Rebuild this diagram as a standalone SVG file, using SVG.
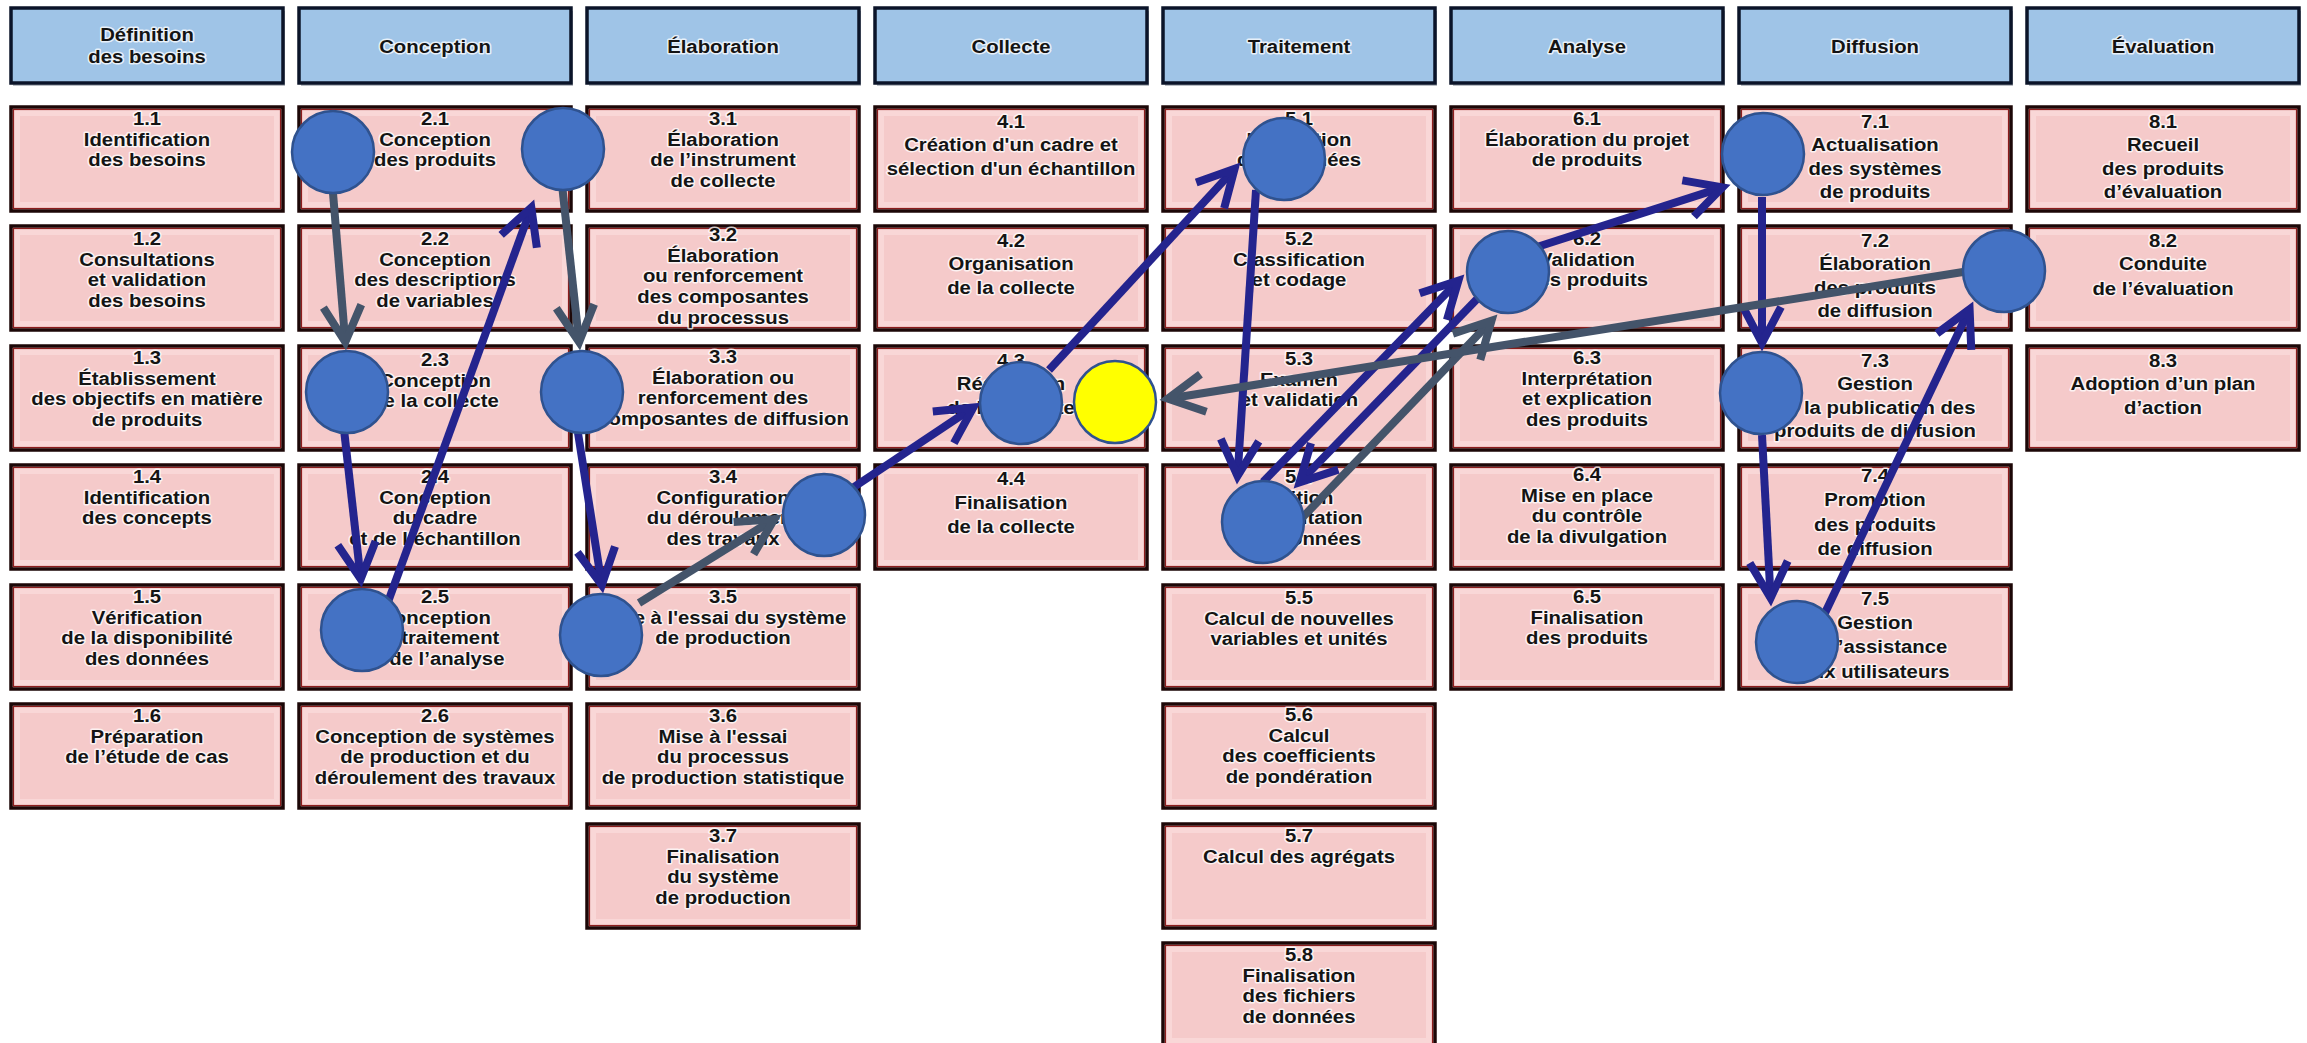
<svg xmlns="http://www.w3.org/2000/svg" width="2307" height="1043" viewBox="0 0 2307 1043">
  <style>
    .hdr { fill: #9fc4e7; stroke: #0b1429; stroke-width: 3.5; }
    .hsh { fill: #7f8794; opacity: 0.55; }
    .box { fill: #f5caca; stroke: #1c0707; stroke-width: 3.5; }
    .glow { fill: none; stroke: #fbe0e0; stroke-width: 6; opacity: 0.6; }
    .edge { fill: none; stroke: #8c1d1d; stroke-width: 1.2; }
    .t { font-family: "Liberation Sans", Arial, sans-serif; font-weight: 700; font-size: 19px; fill: #141414; text-anchor: middle; stroke: #ffffff; stroke-width: 3; stroke-opacity: 0.75; stroke-linejoin: round; paint-order: stroke; }
    .c { fill: #4472c4; stroke: #2f528f; stroke-width: 2.5; }
    .cy { fill: #ffff00; stroke: #2f528f; stroke-width: 2.5; }
    .gray { stroke: #44546a; stroke-width: 8; fill: none; marker-end: url(#ah-gray); }
    .navy { stroke: #24248e; stroke-width: 8; fill: none; marker-end: url(#ah-navy); }
  </style>
  <defs>
    <marker id="ah-gray" markerUnits="userSpaceOnUse" viewBox="-50 -30 70 60" markerWidth="70" markerHeight="60" refX="0" refY="0" orient="auto">
      <path d="M-36,-19 L0,0 L-36,19" fill="none" stroke="#44546a" stroke-width="8" stroke-linejoin="miter" stroke-miterlimit="4"/>
    </marker>
    <marker id="ah-navy" markerUnits="userSpaceOnUse" viewBox="-50 -30 70 60" markerWidth="70" markerHeight="60" refX="0" refY="0" orient="auto">
      <path d="M-36,-19 L0,0 L-36,19" fill="none" stroke="#24248e" stroke-width="8" stroke-linejoin="miter" stroke-miterlimit="4"/>
    </marker>
  </defs>
  <rect width="2307" height="1043" fill="#ffffff"/>

  <!-- phase headers -->
  <g id="h1"><rect class="hsh" x="13" y="11" width="272" height="75"/><rect class="hdr" x="11" y="8" width="272" height="75"/><text class="t" transform="translate(147,0) scale(1.07,1)"><tspan x="0" y="41">Définition</tspan><tspan x="0" y="63">des besoins</tspan></text></g>
  <g id="h2"><rect class="hsh" x="301" y="11" width="272" height="75"/><rect class="hdr" x="299" y="8" width="272" height="75"/><text class="t" transform="translate(435,0) scale(1.07,1)" x="0" y="53">Conception</text></g>
  <g id="h3"><rect class="hsh" x="589" y="11" width="272" height="75"/><rect class="hdr" x="587" y="8" width="272" height="75"/><text class="t" transform="translate(723,0) scale(1.07,1)" x="0" y="53">Élaboration</text></g>
  <g id="h4"><rect class="hsh" x="877" y="11" width="272" height="75"/><rect class="hdr" x="875" y="8" width="272" height="75"/><text class="t" transform="translate(1011,0) scale(1.07,1)" x="0" y="53">Collecte</text></g>
  <g id="h5"><rect class="hsh" x="1165" y="11" width="272" height="75"/><rect class="hdr" x="1163" y="8" width="272" height="75"/><text class="t" transform="translate(1299,0) scale(1.07,1)" x="0" y="53">Traitement</text></g>
  <g id="h6"><rect class="hsh" x="1453" y="11" width="272" height="75"/><rect class="hdr" x="1451" y="8" width="272" height="75"/><text class="t" transform="translate(1587,0) scale(1.07,1)" x="0" y="53">Analyse</text></g>
  <g id="h7"><rect class="hsh" x="1741" y="11" width="272" height="75"/><rect class="hdr" x="1739" y="8" width="272" height="75"/><text class="t" transform="translate(1875,0) scale(1.07,1)" x="0" y="53">Diffusion</text></g>
  <g id="h8"><rect class="hsh" x="2029" y="11" width="272" height="75"/><rect class="hdr" x="2027" y="8" width="272" height="75"/><text class="t" transform="translate(2163,0) scale(1.07,1)" x="0" y="53">Évaluation</text></g>

  <!-- sub-process boxes: column 1 -->
  <g id="s1-1"><rect class="box" x="11" y="107" width="272" height="104"/><rect class="glow" x="17" y="113" width="260" height="92"/><rect class="edge" x="13.5" y="109.5" width="267" height="99"/><text class="t" transform="translate(147,107) scale(1.07,1)"><tspan x="0" y="18">1.1</tspan><tspan x="0" dy="20.7">Identification</tspan><tspan x="0" dy="20.7">des besoins</tspan></text></g>
  <g id="s1-2"><rect class="box" x="11" y="226" width="272" height="104"/><rect class="glow" x="17" y="232" width="260" height="92"/><rect class="edge" x="13.5" y="228.5" width="267" height="99"/><text class="t" transform="translate(147,226) scale(1.07,1)"><tspan x="0" y="19">1.2</tspan><tspan x="0" dy="20.7">Consultations</tspan><tspan x="0" dy="20.7">et validation</tspan><tspan x="0" dy="20.7">des besoins</tspan></text></g>
  <g id="s1-3"><rect class="box" x="11" y="346" width="272" height="104"/><rect class="glow" x="17" y="352" width="260" height="92"/><rect class="edge" x="13.5" y="348.5" width="267" height="99"/><text class="t" transform="translate(147,346) scale(1.07,1)"><tspan x="0" y="18">1.3</tspan><tspan x="0" dy="20.7">Établissement</tspan><tspan x="0" dy="20.7">des objectifs en matière</tspan><tspan x="0" dy="20.7">de produits</tspan></text></g>
  <g id="s1-4"><rect class="box" x="11" y="465" width="272" height="104"/><rect class="glow" x="17" y="471" width="260" height="92"/><rect class="edge" x="13.5" y="467.5" width="267" height="99"/><text class="t" transform="translate(147,465) scale(1.07,1)"><tspan x="0" y="18">1.4</tspan><tspan x="0" dy="20.7">Identification</tspan><tspan x="0" dy="20.7">des concepts</tspan></text></g>
  <g id="s1-5"><rect class="box" x="11" y="585" width="272" height="104"/><rect class="glow" x="17" y="591" width="260" height="92"/><rect class="edge" x="13.5" y="587.5" width="267" height="99"/><text class="t" transform="translate(147,585) scale(1.07,1)"><tspan x="0" y="18">1.5</tspan><tspan x="0" dy="20.7">Vérification</tspan><tspan x="0" dy="20.7">de la disponibilité</tspan><tspan x="0" dy="20.7">des données</tspan></text></g>
  <g id="s1-6"><rect class="box" x="11" y="704" width="272" height="104"/><rect class="glow" x="17" y="710" width="260" height="92"/><rect class="edge" x="13.5" y="706.5" width="267" height="99"/><text class="t" transform="translate(147,704) scale(1.07,1)"><tspan x="0" y="18">1.6</tspan><tspan x="0" dy="20.7">Préparation</tspan><tspan x="0" dy="20.7">de l’étude de cas</tspan></text></g>

  <!-- column 2 -->
  <g id="s2-1"><rect class="box" x="299" y="107" width="272" height="104"/><rect class="glow" x="305" y="113" width="260" height="92"/><rect class="edge" x="301.5" y="109.5" width="267" height="99"/><text class="t" transform="translate(435,107) scale(1.07,1)"><tspan x="0" y="18">2.1</tspan><tspan x="0" dy="20.7">Conception</tspan><tspan x="0" dy="20.7">des produits</tspan></text></g>
  <g id="s2-2"><rect class="box" x="299" y="226" width="272" height="104"/><rect class="glow" x="305" y="232" width="260" height="92"/><rect class="edge" x="301.5" y="228.5" width="267" height="99"/><text class="t" transform="translate(435,226) scale(1.07,1)"><tspan x="0" y="19">2.2</tspan><tspan x="0" dy="20.7">Conception</tspan><tspan x="0" dy="20.7">des descriptions</tspan><tspan x="0" dy="20.7">de variables</tspan></text></g>
  <g id="s2-3"><rect class="box" x="299" y="346" width="272" height="104"/><rect class="glow" x="305" y="352" width="260" height="92"/><rect class="edge" x="301.5" y="348.5" width="267" height="99"/><text class="t" transform="translate(435,346) scale(1.07,1)"><tspan x="0" y="20">2.3</tspan><tspan x="0" dy="20.7">Conception</tspan><tspan x="0" dy="20.7">de la collecte</tspan></text></g>
  <g id="s2-4"><rect class="box" x="299" y="465" width="272" height="104"/><rect class="glow" x="305" y="471" width="260" height="92"/><rect class="edge" x="301.5" y="467.5" width="267" height="99"/><text class="t" transform="translate(435,465) scale(1.07,1)"><tspan x="0" y="18">2.4</tspan><tspan x="0" dy="20.7">Conception</tspan><tspan x="0" dy="20.7">du cadre</tspan><tspan x="0" dy="20.7">et de l’échantillon</tspan></text></g>
  <g id="s2-5"><rect class="box" x="299" y="585" width="272" height="104"/><rect class="glow" x="305" y="591" width="260" height="92"/><rect class="edge" x="301.5" y="587.5" width="267" height="99"/><text class="t" transform="translate(435,585) scale(1.07,1)"><tspan x="0" y="18">2.5</tspan><tspan x="0" dy="20.7">Conception</tspan><tspan x="0" dy="20.7">du traitement</tspan><tspan x="0" dy="20.7">et de l’analyse</tspan></text></g>
  <g id="s2-6"><rect class="box" x="299" y="704" width="272" height="104"/><rect class="glow" x="305" y="710" width="260" height="92"/><rect class="edge" x="301.5" y="706.5" width="267" height="99"/><text class="t" transform="translate(435,704) scale(1.07,1)"><tspan x="0" y="18">2.6</tspan><tspan x="0" dy="20.7">Conception de systèmes</tspan><tspan x="0" dy="20.7">de production et du</tspan><tspan x="0" dy="20.7">déroulement des travaux</tspan></text></g>

  <!-- column 3 -->
  <g id="s3-1"><rect class="box" x="587" y="107" width="272" height="104"/><rect class="glow" x="593" y="113" width="260" height="92"/><rect class="edge" x="589.5" y="109.5" width="267" height="99"/><text class="t" transform="translate(723,107) scale(1.07,1)"><tspan x="0" y="18">3.1</tspan><tspan x="0" dy="20.7">Élaboration</tspan><tspan x="0" dy="20.7">de l’instrument</tspan><tspan x="0" dy="20.7">de collecte</tspan></text></g>
  <g id="s3-2"><rect class="box" x="587" y="226" width="272" height="104"/><rect class="glow" x="593" y="232" width="260" height="92"/><rect class="edge" x="589.5" y="228.5" width="267" height="99"/><text class="t" transform="translate(723,226) scale(1.07,1)"><tspan x="0" y="15">3.2</tspan><tspan x="0" dy="20.7">Élaboration</tspan><tspan x="0" dy="20.7">ou renforcement</tspan><tspan x="0" dy="20.7">des composantes</tspan><tspan x="0" dy="20.7">du processus</tspan></text></g>
  <g id="s3-3"><rect class="box" x="587" y="346" width="272" height="104"/><rect class="glow" x="593" y="352" width="260" height="92"/><rect class="edge" x="589.5" y="348.5" width="267" height="99"/><text class="t" transform="translate(723,346) scale(1.07,1)"><tspan x="0" y="17">3.3</tspan><tspan x="0" dy="20.7">Élaboration ou</tspan><tspan x="0" dy="20.7">renforcement des</tspan><tspan x="0" dy="20.7">composantes de diffusion</tspan></text></g>
  <g id="s3-4"><rect class="box" x="587" y="465" width="272" height="104"/><rect class="glow" x="593" y="471" width="260" height="92"/><rect class="edge" x="589.5" y="467.5" width="267" height="99"/><text class="t" transform="translate(723,465) scale(1.07,1)"><tspan x="0" y="18">3.4</tspan><tspan x="0" dy="20.7">Configuration</tspan><tspan x="0" dy="20.7">du déroulement</tspan><tspan x="0" dy="20.7">des travaux</tspan></text></g>
  <g id="s3-5"><rect class="box" x="587" y="585" width="272" height="104"/><rect class="glow" x="593" y="591" width="260" height="92"/><rect class="edge" x="589.5" y="587.5" width="267" height="99"/><text class="t" transform="translate(723,585) scale(1.07,1)"><tspan x="0" y="18">3.5</tspan><tspan x="0" dy="20.7">Mise à l'essai du système</tspan><tspan x="0" dy="20.7">de production</tspan></text></g>
  <g id="s3-6"><rect class="box" x="587" y="704" width="272" height="104"/><rect class="glow" x="593" y="710" width="260" height="92"/><rect class="edge" x="589.5" y="706.5" width="267" height="99"/><text class="t" transform="translate(723,704) scale(1.07,1)"><tspan x="0" y="18">3.6</tspan><tspan x="0" dy="20.7">Mise à l'essai</tspan><tspan x="0" dy="20.7">du processus</tspan><tspan x="0" dy="20.7">de production statistique</tspan></text></g>
  <g id="s3-7"><rect class="box" x="587" y="824" width="272" height="104"/><rect class="glow" x="593" y="830" width="260" height="92"/><rect class="edge" x="589.5" y="826.5" width="267" height="99"/><text class="t" transform="translate(723,824) scale(1.07,1)"><tspan x="0" y="18">3.7</tspan><tspan x="0" dy="20.7">Finalisation</tspan><tspan x="0" dy="20.7">du système</tspan><tspan x="0" dy="20.7">de production</tspan></text></g>

  <!-- column 4 -->
  <g id="s4-1"><rect class="box" x="875" y="107" width="272" height="104"/><rect class="glow" x="881" y="113" width="260" height="92"/><rect class="edge" x="877.5" y="109.5" width="267" height="99"/><text class="t" transform="translate(1011,107) scale(1.07,1)"><tspan x="0" y="21">4.1</tspan><tspan x="0" dy="23.5">Création d'un cadre et</tspan><tspan x="0" dy="23.5">sélection d'un échantillon</tspan></text></g>
  <g id="s4-2"><rect class="box" x="875" y="226" width="272" height="104"/><rect class="glow" x="881" y="232" width="260" height="92"/><rect class="edge" x="877.5" y="228.5" width="267" height="99"/><text class="t" transform="translate(1011,226) scale(1.07,1)"><tspan x="0" y="21">4.2</tspan><tspan x="0" dy="23.5">Organisation</tspan><tspan x="0" dy="23.5">de la collecte</tspan></text></g>
  <g id="s4-3"><rect class="box" x="875" y="346" width="272" height="104"/><rect class="glow" x="881" y="352" width="260" height="92"/><rect class="edge" x="877.5" y="348.5" width="267" height="99"/><text class="t" transform="translate(1011,346) scale(1.07,1)"><tspan x="0" y="21">4.3</tspan><tspan x="0" dy="23.5">Réalisation</tspan><tspan x="0" dy="23.5">de la collecte</tspan></text></g>
  <g id="s4-4"><rect class="box" x="875" y="465" width="272" height="104"/><rect class="glow" x="881" y="471" width="260" height="92"/><rect class="edge" x="877.5" y="467.5" width="267" height="99"/><text class="t" transform="translate(1011,465) scale(1.07,1)"><tspan x="0" y="20">4.4</tspan><tspan x="0" dy="24.5">Finalisation</tspan><tspan x="0" dy="23.5">de la collecte</tspan></text></g>

  <!-- column 5 -->
  <g id="s5-1"><rect class="box" x="1163" y="107" width="272" height="104"/><rect class="glow" x="1169" y="113" width="260" height="92"/><rect class="edge" x="1165.5" y="109.5" width="267" height="99"/><text class="t" transform="translate(1299,107) scale(1.07,1)"><tspan x="0" y="18">5.1</tspan><tspan x="0" dy="20.7">Intégration</tspan><tspan x="0" dy="20.7">des données</tspan></text></g>
  <g id="s5-2"><rect class="box" x="1163" y="226" width="272" height="104"/><rect class="glow" x="1169" y="232" width="260" height="92"/><rect class="edge" x="1165.5" y="228.5" width="267" height="99"/><text class="t" transform="translate(1299,226) scale(1.07,1)"><tspan x="0" y="19">5.2</tspan><tspan x="0" dy="20.7">Classification</tspan><tspan x="0" dy="20.7">et codage</tspan></text></g>
  <g id="s5-3"><rect class="box" x="1163" y="346" width="272" height="104"/><rect class="glow" x="1169" y="352" width="260" height="92"/><rect class="edge" x="1165.5" y="348.5" width="267" height="99"/><text class="t" transform="translate(1299,346) scale(1.07,1)"><tspan x="0" y="19">5.3</tspan><tspan x="0" dy="20.7">Examen</tspan><tspan x="0" dy="20.7">et validation</tspan></text></g>
  <g id="s5-4"><rect class="box" x="1163" y="465" width="272" height="104"/><rect class="glow" x="1169" y="471" width="260" height="92"/><rect class="edge" x="1165.5" y="467.5" width="267" height="99"/><text class="t" transform="translate(1299,465) scale(1.07,1)"><tspan x="0" y="18">5.4</tspan><tspan x="0" dy="20.7">Édition</tspan><tspan x="0" dy="20.7">et imputation</tspan><tspan x="0" dy="20.7">des données</tspan></text></g>
  <g id="s5-5"><rect class="box" x="1163" y="585" width="272" height="104"/><rect class="glow" x="1169" y="591" width="260" height="92"/><rect class="edge" x="1165.5" y="587.5" width="267" height="99"/><text class="t" transform="translate(1299,585) scale(1.07,1)"><tspan x="0" y="19">5.5</tspan><tspan x="0" dy="20.7">Calcul de nouvelles</tspan><tspan x="0" dy="20.7">variables et unités</tspan></text></g>
  <g id="s5-6"><rect class="box" x="1163" y="704" width="272" height="104"/><rect class="glow" x="1169" y="710" width="260" height="92"/><rect class="edge" x="1165.5" y="706.5" width="267" height="99"/><text class="t" transform="translate(1299,704) scale(1.07,1)"><tspan x="0" y="17">5.6</tspan><tspan x="0" dy="20.7">Calcul</tspan><tspan x="0" dy="20.7">des coefficients</tspan><tspan x="0" dy="20.7">de pondération</tspan></text></g>
  <g id="s5-7"><rect class="box" x="1163" y="824" width="272" height="104"/><rect class="glow" x="1169" y="830" width="260" height="92"/><rect class="edge" x="1165.5" y="826.5" width="267" height="99"/><text class="t" transform="translate(1299,824) scale(1.07,1)"><tspan x="0" y="18">5.7</tspan><tspan x="0" dy="20.7">Calcul des agrégats</tspan></text></g>
  <g id="s5-8"><rect class="box" x="1163" y="943" width="272" height="104"/><rect class="glow" x="1169" y="949" width="260" height="92"/><rect class="edge" x="1165.5" y="945.5" width="267" height="99"/><text class="t" transform="translate(1299,943) scale(1.07,1)"><tspan x="0" y="18">5.8</tspan><tspan x="0" dy="20.7">Finalisation</tspan><tspan x="0" dy="20.7">des fichiers</tspan><tspan x="0" dy="20.7">de données</tspan></text></g>

  <!-- column 6 -->
  <g id="s6-1"><rect class="box" x="1451" y="107" width="272" height="104"/><rect class="glow" x="1457" y="113" width="260" height="92"/><rect class="edge" x="1453.5" y="109.5" width="267" height="99"/><text class="t" transform="translate(1587,107) scale(1.07,1)"><tspan x="0" y="18">6.1</tspan><tspan x="0" dy="20.7">Élaboration du projet</tspan><tspan x="0" dy="20.7">de produits</tspan></text></g>
  <g id="s6-2"><rect class="box" x="1451" y="226" width="272" height="104"/><rect class="glow" x="1457" y="232" width="260" height="92"/><rect class="edge" x="1453.5" y="228.5" width="267" height="99"/><text class="t" transform="translate(1587,226) scale(1.07,1)"><tspan x="0" y="19">6.2</tspan><tspan x="0" dy="20.7">Validation</tspan><tspan x="0" dy="20.7">des produits</tspan></text></g>
  <g id="s6-3"><rect class="box" x="1451" y="346" width="272" height="104"/><rect class="glow" x="1457" y="352" width="260" height="92"/><rect class="edge" x="1453.5" y="348.5" width="267" height="99"/><text class="t" transform="translate(1587,346) scale(1.07,1)"><tspan x="0" y="18">6.3</tspan><tspan x="0" dy="20.7">Interprétation</tspan><tspan x="0" dy="20.7">et explication</tspan><tspan x="0" dy="20.7">des produits</tspan></text></g>
  <g id="s6-4"><rect class="box" x="1451" y="465" width="272" height="104"/><rect class="glow" x="1457" y="471" width="260" height="92"/><rect class="edge" x="1453.5" y="467.5" width="267" height="99"/><text class="t" transform="translate(1587,465) scale(1.07,1)"><tspan x="0" y="16">6.4</tspan><tspan x="0" dy="20.7">Mise en place</tspan><tspan x="0" dy="20.7">du contrôle</tspan><tspan x="0" dy="20.7">de la divulgation</tspan></text></g>
  <g id="s6-5"><rect class="box" x="1451" y="585" width="272" height="104"/><rect class="glow" x="1457" y="591" width="260" height="92"/><rect class="edge" x="1453.5" y="587.5" width="267" height="99"/><text class="t" transform="translate(1587,585) scale(1.07,1)"><tspan x="0" y="18">6.5</tspan><tspan x="0" dy="20.7">Finalisation</tspan><tspan x="0" dy="20.7">des produits</tspan></text></g>

  <!-- column 7 -->
  <g id="s7-1"><rect class="box" x="1739" y="107" width="272" height="104"/><rect class="glow" x="1745" y="113" width="260" height="92"/><rect class="edge" x="1741.5" y="109.5" width="267" height="99"/><text class="t" transform="translate(1875,107) scale(1.07,1)"><tspan x="0" y="21">7.1</tspan><tspan x="0" dy="23.5">Actualisation</tspan><tspan x="0" dy="23.5">des systèmes</tspan><tspan x="0" dy="23.5">de produits</tspan></text></g>
  <g id="s7-2"><rect class="box" x="1739" y="226" width="272" height="104"/><rect class="glow" x="1745" y="232" width="260" height="92"/><rect class="edge" x="1741.5" y="228.5" width="267" height="99"/><text class="t" transform="translate(1875,226) scale(1.07,1)"><tspan x="0" y="21">7.2</tspan><tspan x="0" dy="23.5">Élaboration</tspan><tspan x="0" dy="23.5">des produits</tspan><tspan x="0" dy="23.5">de diffusion</tspan></text></g>
  <g id="s7-3"><rect class="box" x="1739" y="346" width="272" height="104"/><rect class="glow" x="1745" y="352" width="260" height="92"/><rect class="edge" x="1741.5" y="348.5" width="267" height="99"/><text class="t" transform="translate(1875,346) scale(1.07,1)"><tspan x="0" y="21">7.3</tspan><tspan x="0" dy="23.5">Gestion</tspan><tspan x="0" dy="23.5">de la publication des</tspan><tspan x="0" dy="23.5">produits de diffusion</tspan></text></g>
  <g id="s7-4"><rect class="box" x="1739" y="465" width="272" height="104"/><rect class="glow" x="1745" y="471" width="260" height="92"/><rect class="edge" x="1741.5" y="467.5" width="267" height="99"/><text class="t" transform="translate(1875,465) scale(1.07,1)"><tspan x="0" y="17">7.4</tspan><tspan x="0" dy="24.5">Promotion</tspan><tspan x="0" dy="24.5">des produits</tspan><tspan x="0" dy="24">de diffusion</tspan></text></g>
  <g id="s7-5"><rect class="box" x="1739" y="585" width="272" height="104"/><rect class="glow" x="1745" y="591" width="260" height="92"/><rect class="edge" x="1741.5" y="587.5" width="267" height="99"/><text class="t" transform="translate(1875,585) scale(1.07,1)"><tspan x="0" y="20">7.5</tspan><tspan x="0" dy="24.5">Gestion</tspan><tspan x="0" dy="24">de l’assistance</tspan><tspan x="0" dy="24.5">aux utilisateurs</tspan></text></g>

  <!-- column 8 -->
  <g id="s8-1"><rect class="box" x="2027" y="107" width="272" height="104"/><rect class="glow" x="2033" y="113" width="260" height="92"/><rect class="edge" x="2029.5" y="109.5" width="267" height="99"/><text class="t" transform="translate(2163,107) scale(1.07,1)"><tspan x="0" y="21">8.1</tspan><tspan x="0" dy="23.5">Recueil</tspan><tspan x="0" dy="23.5">des produits</tspan><tspan x="0" dy="23.5">d’évaluation</tspan></text></g>
  <g id="s8-2"><rect class="box" x="2027" y="226" width="272" height="104"/><rect class="glow" x="2033" y="232" width="260" height="92"/><rect class="edge" x="2029.5" y="228.5" width="267" height="99"/><text class="t" transform="translate(2163,226) scale(1.07,1)"><tspan x="0" y="21">8.2</tspan><tspan x="0" dy="23.5">Conduite</tspan><tspan x="0" dy="24.5">de l’évaluation</tspan></text></g>
  <g id="s8-3"><rect class="box" x="2027" y="346" width="272" height="104"/><rect class="glow" x="2033" y="352" width="260" height="92"/><rect class="edge" x="2029.5" y="348.5" width="267" height="99"/><text class="t" transform="translate(2163,346) scale(1.07,1)"><tspan x="0" y="21">8.3</tspan><tspan x="0" dy="23.5">Adoption d’un plan</tspan><tspan x="0" dy="23.5">d’action</tspan></text></g>

  <!-- connectors -->
  <g id="connectors">
    <line class="gray" x1="333" y1="193" x2="345.3" y2="342"/>
    <line class="navy" x1="388" y1="602" x2="531.3" y2="207.5"/>
    <line class="gray" x1="562.6" y1="190" x2="579.1" y2="342"/>
    <line class="navy" x1="344.4" y1="433" x2="360.7" y2="579"/>
    <line class="navy" x1="578" y1="433" x2="601.8" y2="585"/>
    <line class="gray" x1="639" y1="603" x2="774.2" y2="519.2"/>
    <line class="navy" x1="854" y1="487" x2="973.3" y2="407.4"/>
    <line class="navy" x1="1049" y1="370" x2="1234.6" y2="168.9"/>
    <line class="navy" x1="1256" y1="190" x2="1237.5" y2="476"/>
    <line class="navy" x1="1263" y1="482" x2="1458.4" y2="280.7"/>
    <line class="navy" x1="1478" y1="298" x2="1299.6" y2="482.3"/>
    <line class="gray" x1="1302" y1="518" x2="1491.5" y2="320.8"/>
    <line class="navy" x1="1537" y1="247" x2="1722.4" y2="187.4"/>
    <line class="navy" x1="1762" y1="197" x2="1762" y2="343"/>
    <line class="navy" x1="1762" y1="435" x2="1770.6" y2="598"/>
    <line class="navy" x1="1825" y1="613" x2="1969.6" y2="309.2"/>
    <line class="gray" x1="1963" y1="272" x2="1167.9" y2="398.7"/>
  </g>

  <!-- markers placed on the sub-processes -->
  <g id="m-a"><circle class="c" cx="333" cy="152" r="41"/></g>
  <g id="m-b"><circle class="c" cx="563" cy="149" r="41"/></g>
  <g id="m-c"><circle class="c" cx="347" cy="392" r="41"/></g>
  <g id="m-d"><circle class="c" cx="582" cy="392" r="41"/></g>
  <g id="m-e"><circle class="c" cx="362" cy="630" r="41"/></g>
  <g id="m-f"><circle class="c" cx="601" cy="635" r="41"/></g>
  <g id="m-g"><circle class="c" cx="824" cy="515" r="41"/></g>
  <g id="m-h"><circle class="c" cx="1021" cy="403" r="41"/></g>
  <g id="m-y"><circle class="cy" cx="1115" cy="402" r="41"/></g>
  <g id="m-i"><circle class="c" cx="1284" cy="159" r="41"/></g>
  <g id="m-j"><circle class="c" cx="1508" cy="272" r="41"/></g>
  <g id="m-k"><circle class="c" cx="1263" cy="522" r="41"/></g>
  <g id="m-l"><circle class="c" cx="1763" cy="154" r="41"/></g>
  <g id="m-m"><circle class="c" cx="2004" cy="271" r="41"/></g>
  <g id="m-n"><circle class="c" cx="1761" cy="393" r="41"/></g>
  <g id="m-o"><circle class="c" cx="1797" cy="642" r="41"/></g>
</svg>
